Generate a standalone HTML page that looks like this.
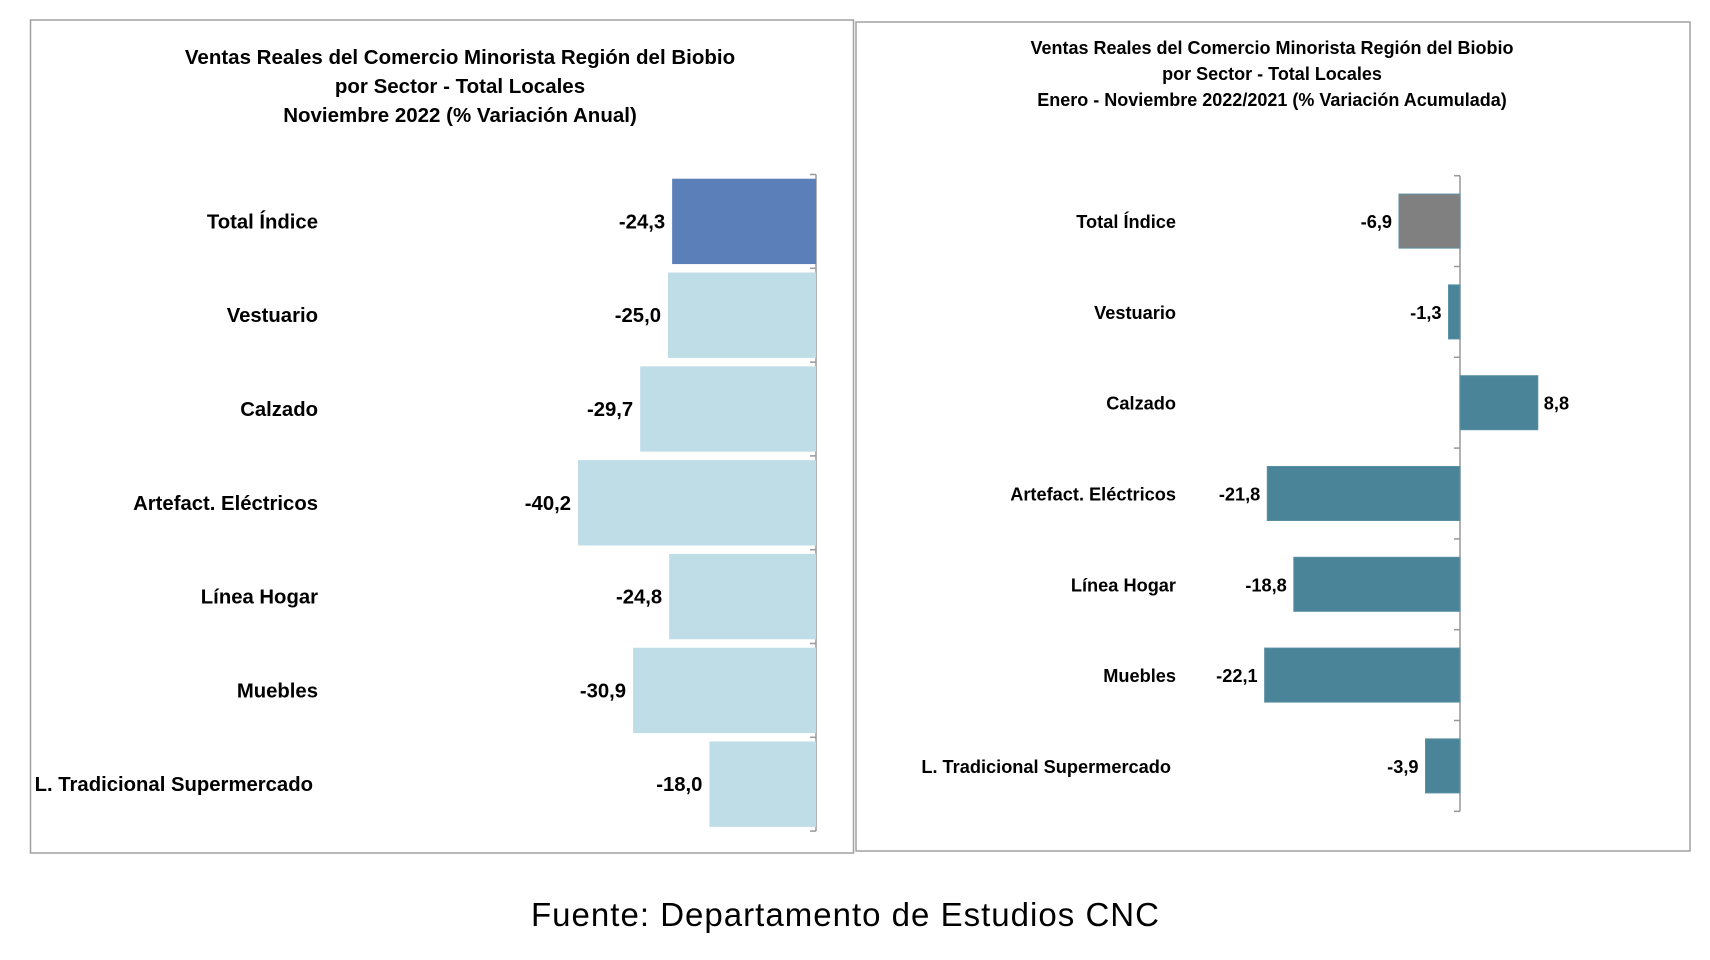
<!DOCTYPE html>
<html><head><meta charset="utf-8"><style>
body{margin:0;background:#fff;width:1710px;height:960px;overflow:hidden}
svg{display:block;font-family:"Liberation Sans",sans-serif}
</style></head><body>
<svg id="s" width="1710" height="960">
<rect x="30.5" y="20" width="823" height="833" fill="#fff" stroke="#a0a0a0" stroke-width="1.5"/>
<rect x="856" y="22" width="834" height="829" fill="#fff" stroke="#a0a0a0" stroke-width="1.5"/>
<g font-weight="bold" font-size="20.5" text-anchor="middle">
<text x="460" y="64">Ventas Reales del Comercio Minorista  Región del Biobio</text>
<text x="460" y="93">por Sector - Total Locales</text>
<text x="460" y="122">Noviembre 2022  (% Variación Anual)</text>
</g>
<g font-weight="bold" font-size="18" text-anchor="middle">
<text x="1272" y="54">Ventas Reales del Comercio Minorista Región del Biobio</text>
<text x="1272" y="80">por Sector - Total Locales</text>
<text x="1272" y="106">Enero - Noviembre 2022/2021  (% Variación Acumulada)</text>
</g>
<text x="845" y="926" font-size="33" text-anchor="middle" textLength="628">Fuente: Departamento de Estudios CNC</text>
<g id="L"></g><g id="R"></g>
</svg>
<script>
const categories=["Total Índice","Vestuario","Calzado","Artefact. Eléctricos","Línea Hogar","Muebles","L. Tradicional Supermercado"];
const annualValues=[-24.3,-25.0,-29.7,-40.2,-24.8,-30.9,-18.0];
const cumulativeValues=[-6.9,-1.3,8.8,-21.8,-18.8,-22.1,-3.9];
const NS="http://www.w3.org/2000/svg";
function mk(p,t,a){const e=document.createElementNS(NS,t);for(const k in a)e.setAttribute(k,a[k]);p.appendChild(e);return e;}
function draw(g,vals,o){
  const x=v=>o.x0+v*o.k;
  const y=i=>o.top+i*o.band;
  const ax=mk(g,'line',{x1:o.x0,x2:o.x0,y1:o.top,y2:o.top+vals.length*o.band,stroke:'#999','stroke-width':1.5});
  
  
  for(let i=0;i<=vals.length;i++){
    const t=mk(g,'line',{x1:o.x0-6,x2:o.x0,y1:y(i),y2:y(i),stroke:'#999','stroke-width':1.5});
    
    
  }
  vals.forEach((v,i)=>{
    const h=o.band*o.frac, by=y(i)+(o.band-h)/2, cy=y(i)+o.band/2;
    const x1=Math.min(x(0),x(v)), w=Math.abs(x(v)-x(0));
    const b=mk(g,'rect',{x:x1,y:by,width:w,height:h,fill:i==0?o.c0:o.c1,stroke:o.stroke||'none','stroke-width':1});
    
    
    const lv=v<0;
    const vl=mk(g,'text',{x:lv?x(v)-7:x(v)+6,y:cy+7,'text-anchor':lv?'end':'start','font-weight':'bold','font-size':o.fs});
    vl.textContent=v.toFixed(1).replace('.',',');
    
    
    const cl=mk(g,'text',{x:o.lx-(i==6?o.lastOff:0),y:cy+7,'text-anchor':'end','font-weight':'bold','font-size':o.fs});
    cl.textContent=categories[i];
    
    
  });
}
draw(document.getElementById('L'),annualValues,{p:'left',x0:816,k:5.92,top:174.5,band:93.8,frac:0.91,c0:'#5b7fb8',c1:'#bfdde6',fs:20.3,lx:318,lastOff:5});
draw(document.getElementById('R'),cumulativeValues,{p:'right',x0:1460,k:8.84,top:175.7,band:90.8,frac:0.595,c0:'#808080',c1:'#4a8499',stroke:'#5a8fa3',fs:18.2,lx:1176,lastOff:5});
</script>
</body></html>
